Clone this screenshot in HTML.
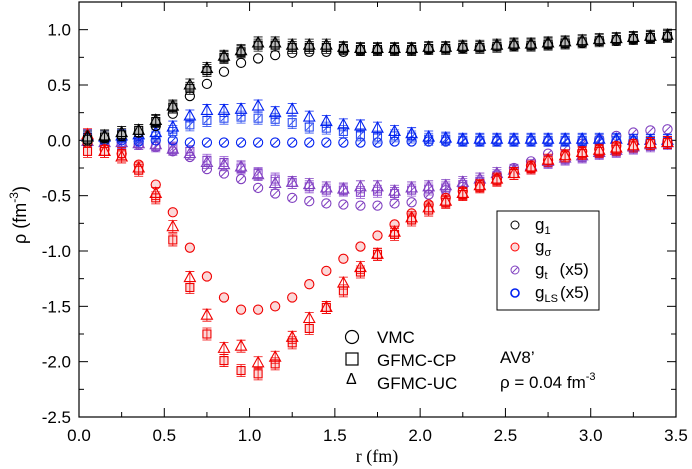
<!DOCTYPE html>
<html><head><meta charset="utf-8"><style>
html,body{margin:0;padding:0;background:#fff;}
svg{display:block;font-family:"Liberation Sans",sans-serif;}
</style></head><body>
<svg id="chart" width="692" height="469" viewBox="0 0 692 469">
<g id="axes"></g>
<g id="marks"></g>
<g id="legend">
 <rect x="497" y="211" width="102" height="99" fill="#fff" stroke="#000" stroke-width="1"/>
 <circle cx="515" cy="225" r="4" fill="none" stroke="#000"/>
 <text x="535" y="230" font-size="17">g<tspan font-size="11" dy="4">1</tspan></text>
 <circle cx="515" cy="247" r="4" fill="#fbd8d8" stroke="#f00"/>
 <text x="535" y="252" font-size="17">g<tspan font-size="11" dy="4">σ</tspan></text>
 <circle cx="515" cy="270" r="4" fill="none" stroke="#8040c0"/>
 <line x1="512" y1="273" x2="518" y2="267" stroke="#8040c0"/>
 <text x="535" y="275" font-size="17">g<tspan font-size="11" dy="4">t</tspan><tspan dy="-4" dx="12">(x5)</tspan></text>
 <circle cx="515" cy="293" r="4" fill="none" stroke="#0020f0" stroke-width="1.6"/>
 <text x="535" y="298" font-size="17">g<tspan font-size="11" dy="4">LS</tspan><tspan dy="-4" dx="2">(x5)</tspan></text>
</g>
<g id="method-key">
 <circle cx="352" cy="337" r="6.5" fill="none" stroke="#000" stroke-width="1.2"/>
 <text x="377" y="343" font-size="17">VMC</text>
 <rect x="346" y="353" width="12" height="12" fill="none" stroke="#000" stroke-width="1.2"/>
 <text x="377" y="366" font-size="17">GFMC-CP</text>
 <text x="346" y="384" font-size="16">Δ</text>
 <text x="377" y="389" font-size="17">GFMC-UC</text>
 <text x="500" y="363" font-size="17">AV8’</text>
 <text x="500" y="388" font-size="17">ρ = 0.04 fm<tspan font-size="11" dy="-8">-3</tspan></text>
</g>
</svg>
<script>
const rVals=[0.05,0.15,0.25,0.35,0.45,0.55,0.65,0.75,0.85,0.95,1.05,1.15,1.25,1.35,1.45,1.55,1.65,1.75,1.85,1.95,2.05,2.15,2.25,2.35,2.45,2.55,2.65,2.75,2.85,2.95,3.05,3.15,3.25,3.35,3.45];
const xTicks=[0.0,0.5,1.0,1.5,2.0,2.5,3.0,3.5];
const yTicks=[-2.5,-2.0,-1.5,-1.0,-0.5,0.0,0.5,1.0];
const g1VMC=[0.0,0.02,0.04,0.07,0.13,0.24,0.40,0.51,0.62,0.70,0.74,0.77,0.79,0.80,0.80,0.80,0.81,0.82,0.82,0.82,0.82,0.83,0.83,0.84,0.85,0.85,0.86,0.87,0.88,0.88,0.90,0.90,0.91,0.92,0.93];
const g1CP=[0.01,0.03,0.05,0.09,0.17,0.30,0.47,0.63,0.75,0.80,0.86,0.86,0.84,0.84,0.84,0.83,0.82,0.82,0.82,0.82,0.83,0.83,0.84,0.84,0.85,0.86,0.86,0.87,0.88,0.89,0.90,0.91,0.92,0.93,0.94];
const g1UC=[0.03,0.04,0.07,0.09,0.18,0.31,0.50,0.65,0.76,0.81,0.88,0.88,0.86,0.86,0.86,0.84,0.83,0.83,0.83,0.83,0.84,0.84,0.85,0.85,0.86,0.87,0.87,0.88,0.89,0.90,0.91,0.92,0.93,0.94,0.95];
const gsVMC=[-0.02,-0.08,-0.12,-0.22,-0.40,-0.65,-0.97,-1.23,-1.42,-1.53,-1.53,-1.50,-1.42,-1.30,-1.18,-1.07,-0.96,-0.86,-0.76,-0.66,-0.58,-0.52,-0.46,-0.40,-0.35,-0.29,-0.23,-0.18,-0.13,-0.10,-0.08,-0.05,-0.03,-0.03,-0.02];
const gsCP=[-0.10,-0.10,-0.12,-0.27,-0.52,-0.90,-1.33,-1.75,-1.99,-2.08,-2.11,-2.02,-1.83,-1.70,-1.51,-1.36,-1.19,-1.03,-0.85,-0.72,-0.63,-0.56,-0.49,-0.42,-0.36,-0.30,-0.25,-0.18,-0.14,-0.12,-0.10,-0.08,-0.05,-0.03,-0.02];
const gsUC=[0.05,-0.10,-0.15,-0.25,-0.48,-0.78,-1.24,-1.58,-1.88,-1.86,-2.01,-1.96,-1.78,-1.61,-1.51,-1.29,-1.15,-1.03,-0.83,-0.70,-0.61,-0.55,-0.48,-0.41,-0.35,-0.30,-0.24,-0.18,-0.14,-0.11,-0.09,-0.07,-0.05,-0.03,-0.02];
const gtVMC=[0.0,-0.01,-0.02,-0.04,-0.06,-0.10,-0.15,-0.26,-0.30,-0.35,-0.43,-0.48,-0.52,-0.55,-0.57,-0.58,-0.59,-0.59,-0.57,-0.56,-0.49,-0.45,-0.42,-0.38,-0.31,-0.25,-0.19,-0.12,-0.07,-0.03,0.01,0.04,0.07,0.09,0.10];
const gtCP=[-0.02,-0.02,-0.03,-0.03,-0.05,-0.07,-0.10,-0.18,-0.20,-0.25,-0.30,-0.35,-0.38,-0.42,-0.45,-0.45,-0.47,-0.46,-0.48,-0.45,-0.44,-0.43,-0.40,-0.37,-0.32,-0.28,-0.25,-0.20,-0.17,-0.15,-0.12,-0.10,-0.07,-0.05,-0.03];
const gtUC=[-0.01,-0.02,-0.02,-0.03,-0.04,-0.08,-0.12,-0.20,-0.22,-0.24,-0.31,-0.39,-0.38,-0.40,-0.43,-0.44,-0.42,-0.42,-0.46,-0.43,-0.42,-0.41,-0.38,-0.35,-0.30,-0.27,-0.23,-0.19,-0.16,-0.14,-0.11,-0.09,-0.06,-0.04,-0.02];
const glsVMC=[0.0,0.0,0.0,-0.01,0.0,0.0,-0.02,-0.02,-0.02,-0.02,-0.02,-0.02,-0.02,-0.02,-0.02,-0.02,-0.02,-0.02,-0.01,-0.01,-0.01,-0.01,-0.01,-0.01,-0.01,-0.01,-0.01,-0.01,-0.01,-0.01,-0.01,-0.01,-0.01,-0.01,-0.01];
const glsCP=[0.02,0.01,0.03,0.02,0.04,0.08,0.14,0.18,0.20,0.21,0.20,0.19,0.16,0.12,0.11,0.08,0.05,0.03,0.04,0.03,0.01,0.01,0.0,0.0,0.0,0.0,0.0,0.0,0.0,0.0,0.0,0.0,0.0,0.0,0.0];
const glsUC=[0.04,0.03,0.04,0.05,0.07,0.12,0.22,0.27,0.27,0.28,0.31,0.25,0.28,0.21,0.17,0.14,0.13,0.11,0.08,0.06,0.03,0.02,0.01,0.01,0.01,0.01,0.01,0.01,0.01,0.01,0.01,0.01,0.0,0.0,0.0];

const X0=79,X1=676,Y0=417,Y1=2,xmin=0,xmax=3.5,ymin=-2.5,ymax=1.25;
const xs=v=>X0+(v-xmin)/(xmax-xmin)*(X1-X0);
const ys=v=>Y0-(v-ymin)/(ymax-ymin)*(Y0-Y1);
const NS='http://www.w3.org/2000/svg';
function mk(tag,attrs,parent){const e=document.createElementNS(NS,tag);for(const k in attrs)e.setAttribute(k,attrs[k]);parent.appendChild(e);return e;}
const axes=document.getElementById('axes'),marks=document.getElementById('marks');

const frame=mk('rect',{x:X0,y:Y1,width:X1-X0,height:Y0-Y1,fill:'none',stroke:'#000','stroke-width':1.2},axes);


xTicks.forEach((t,i)=>{
  const x=xs(t);
  [[Y0,Y0-9],[Y1,Y1+9]].forEach(p=>{const l=mk('line',{x1:x,x2:x,y1:p[0],y2:p[1],stroke:'#000'},axes);
    
    });
  if(i<xTicks.length-1){const xm=xs(t+0.25);
    [[Y0,Y0-5],[Y1,Y1+5]].forEach(p=>{const l=mk('line',{x1:xm,x2:xm,y1:p[0],y2:p[1],stroke:'#000'},axes);
      
      });}
  const tx=mk('text',{x:x,y:Y0+24,'font-size':17,'text-anchor':'middle'},axes);
  tx.textContent=t.toFixed(1);
  
  
});
yTicks.forEach((t,i)=>{
  const y=ys(t);
  [[X0,X0+9],[X1,X1-9]].forEach(p=>{const l=mk('line',{x1:p[0],x2:p[1],y1:y,y2:y,stroke:'#000'},axes);
    
    });
  const ym=ys(t+0.25);
  [[X0,X0+5],[X1,X1-5]].forEach(p=>{const l=mk('line',{x1:p[0],x2:p[1],y1:ym,y2:ym,stroke:'#000'},axes);
    
    });
  const tx=mk('text',{x:X0-8,y:y+6,'font-size':17,'text-anchor':'end'},axes);
  tx.textContent=t.toFixed(1);
  
  
});
const xt=mk('text',{x:377,y:462,'font-size':18,'text-anchor':'middle','font-family':'Liberation Serif, serif'},axes);
xt.textContent='r (fm)';


const yt=mk('text',{x:0,y:0,'font-size':18,'text-anchor':'middle',transform:'translate(26,215) rotate(-90)'},axes);
yt.innerHTML='ρ (fm<tspan font-size="12" dy="-8">-3</tspan><tspan dy="8">)</tspan>';



const series=[
 {d:gtVMC,c:'#8040c0',f:'none',s:'circle',h:true,n:'gt-vmc'},
 {d:gtCP,c:'#9050d0',f:'none',s:'square',h:true,n:'gt-cp'},
 {d:gtUC,c:'#8040c0',f:'none',s:'tri',h:false,n:'gt-uc'},
 {d:glsVMC,c:'#0020f0',f:'none',s:'circle',h:true,n:'gls-vmc'},
 {d:glsCP,c:'#3050f0',f:'none',s:'square',h:true,n:'gls-cp'},
 {d:glsUC,c:'#0020f0',f:'none',s:'tri',h:false,n:'gls-uc'},
 {d:gsVMC,c:'#f00000',f:'#fbd8d8',s:'circle',h:false,n:'gsigma-vmc'},
 {d:gsCP,c:'#f00000',f:'#fbd8d8',s:'square',h:false,n:'gsigma-cp'},
 {d:gsUC,c:'#f00000',f:'none',s:'tri',h:false,n:'gsigma-uc'},
 {d:g1VMC,c:'#000',f:'none',s:'circle',h:false,n:'g1-vmc'},
 {d:g1CP,c:'#000',f:'#bbb',s:'square',h:false,n:'g1-cp'},
 {d:g1UC,c:'#000',f:'none',s:'tri',h:false,n:'g1-uc'}
];
series.forEach(S=>{
  const g=mk('g',{},marks);
  
  
  S.d.forEach((v,i)=>{
    const x=xs(rVals[i]),y=ys(v);let e;
    if(S.s==='circle')e=mk('circle',{cx:x,cy:y,r:4.6,fill:S.f,stroke:S.c,'stroke-width':1.1},g);
    else if(S.s==='square')e=mk('rect',{x:x-4,y:y-4,width:8,height:8,fill:S.f,stroke:S.c,'stroke-width':1.1},g);
    else e=mk('polygon',{points:`${x},${y-6} ${x-5.5},${y+4} ${x+5.5},${y+4}`,fill:'none',stroke:S.c,'stroke-width':1.1},g);
    
    
    if(S.h){const l=mk('line',{x1:x-3,y1:y+3,x2:x+3,y2:y-3,stroke:S.c},g);
      
      }
    if(S.s!=='circle'){const cap=mk('path',{d:`M${x-4.5},${y-6}H${x+4.5}M${x-4.5},${y+6}H${x+4.5}M${x},${y-6}V${y+6}`,stroke:S.c,'stroke-width':0.8,fill:'none'},g);
      
      }
  });
});
</script>
</body></html>
